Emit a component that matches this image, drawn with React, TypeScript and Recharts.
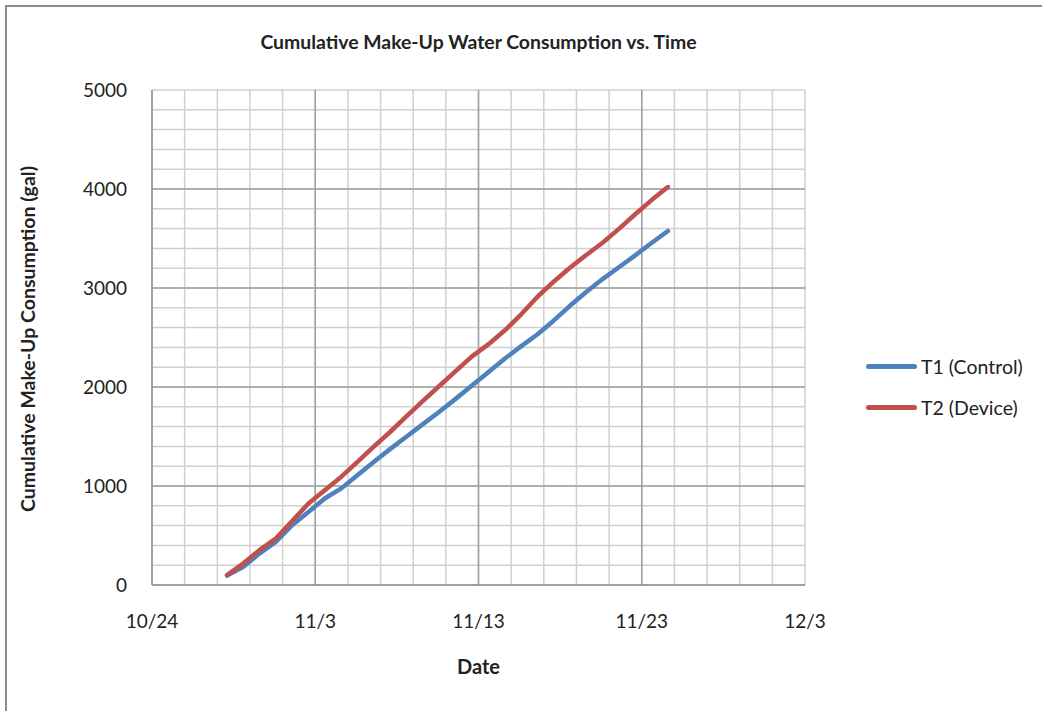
import { CartesianGrid, Legend, Line, LineChart, ReferenceLine, XAxis, YAxis } from "recharts";

// days after 10/24 (readings taken daily, mid-afternoon)
const DAYS = [
  4.6, 5.6, 6.6, 7.6, 8.6, 9.6, 10.6, 11.6, 12.6, 13.6, 14.6, 15.6, 16.6, 17.6, 18.6, 19.6, 20.6, 21.6, 22.6, 23.6,
  24.6, 25.6, 26.6, 27.6, 28.6, 29.6, 30.6, 31.6,
];
const T1_CONTROL = [
  95, 185, 320, 438, 606, 741, 876, 976, 1110, 1245, 1375, 1500, 1625, 1750, 1880, 2015, 2150, 2285, 2410, 2530,
  2670, 2820, 2960, 3090, 3210, 3330, 3455, 3576,
];
const T2_DEVICE = [
  100, 219, 354, 471, 650, 825, 960, 1094, 1246, 1400, 1548, 1705, 1859, 2010, 2160, 2310, 2430, 2570, 2732, 2909,
  3064, 3204, 3334, 3457, 3597, 3745, 3888, 4020,
];

const X_TICKS = [0, 2, 4, 6, 8, 10, 12, 14, 16, 18, 20, 22, 24, 26, 28, 30, 32, 34, 36, 38, 40];
const X_MAJOR = [10, 20, 30];
const Y_TICKS = [0, 200, 400, 600, 800, 1000, 1200, 1400, 1600, 1800, 2000, 2200, 2400, 2600, 2800, 3000, 3200, 3400, 3600, 3800, 4000, 4200, 4400, 4600, 4800, 5000];
const Y_MAJOR = [1000, 2000, 3000, 4000];

const SERIES = [
  { key: "t1", name: "T1 (Control)", color: "#4f81bd" },
  { key: "t2", name: "T2 (Device)", color: "#c0504d" },
];

const data = DAYS.map((d, i) => ({ day: d, t1: T1_CONTROL[i], t2: T2_DEVICE[i] }));

const FONT = "Lato, 'Open Sans', sans-serif";

function dayLabel(v: number) {
  if (v % 10 !== 0) return "";
  const dt = new Date(2013, 9, 24 + v);
  return `${dt.getMonth() + 1}/${dt.getDate()}`;
}

function LegendBox() {
  return (
    <div style={{ fontFamily: FONT, fontSize: 19.5, color: "#222" }}>
      {SERIES.map((s) => (
        <div key={s.key} style={{ display: "flex", alignItems: "center", height: 41 }}>
          <span style={{ width: 51, height: 5, borderRadius: 3, background: s.color, marginRight: 4 }} />
          {s.name}
        </div>
      ))}
    </div>
  );
}

export default function App() {
  return (
    <div style={{ position: "absolute", left: 0, top: 0, width: 1042, height: 711, overflow: "hidden", background: "#fff" }}>
      <div
        style={{
          position: "absolute",
          left: 0,
          top: 0,
          zIndex: 1,
          pointerEvents: "none",
        }}
      >
        <LineChart width={1042} height={711} data={data} margin={{ top: 90, right: 61, bottom: 0, left: 0 }}>
          <CartesianGrid stroke="#d0d0d0" strokeWidth={1.5} />
          {X_MAJOR.map((x) => (
            <ReferenceLine key={`x${x}`} x={x} stroke="#a0a0a0" strokeWidth={1.5} />
          ))}
          {Y_MAJOR.map((y) => (
            <ReferenceLine key={`y${y}`} y={y} stroke="#a0a0a0" strokeWidth={1.5} />
          ))}
          <XAxis
            dataKey="day"
            type="number"
            domain={[0, 40]}
            ticks={X_TICKS}
            interval={0}
            tickFormatter={dayLabel}
            tickLine={false}
            axisLine={{ stroke: "#8c8c8c", strokeWidth: 1.5 }}
            tickMargin={24}
            tick={{ fontSize: 19, fill: "#222", fontFamily: FONT }}
            height={126}
          />
          <YAxis
            type="number"
            domain={[0, 5000]}
            ticks={Y_TICKS}
            interval={0}
            tickFormatter={(v: number) => (v % 1000 === 0 ? String(v) : "")}
            tickLine={false}
            axisLine={{ stroke: "#8c8c8c", strokeWidth: 1.5 }}
            tickMargin={19}
            tick={{ fontSize: 19, fill: "#222", fontFamily: FONT }}
            width={152}
          />
          {SERIES.map((s) => (
            <Line
              key={s.key}
              dataKey={s.key}
              name={s.name}
              type="linear"
              stroke={s.color}
              strokeWidth={4.5}
              strokeLinecap="round"
              strokeLinejoin="round"
              dot={false}
              isAnimationActive={false}
            />
          ))}
          <Legend
            layout="vertical"
            align="right"
            verticalAlign="top"
            content={() => <LegendBox />}
            wrapperStyle={{ left: 866, top: 346, width: 176 }}
          />
        </LineChart>
      </div>
      <div
        style={{
          position: "absolute",
          left: 5,
          top: 5,
          width: 1100,
          height: 800,
          borderTop: "2px solid #8c8c8c",
          borderLeft: "2px solid #8c8c8c",
          zIndex: 2,
          pointerEvents: "none",
        }}
      />
      <div
        style={{
          position: "absolute",
          left: 152,
          width: 653,
          top: 30,
          textAlign: "center",
          fontFamily: FONT,
          fontWeight: 700,
          fontSize: 19.4,
          color: "#222",
        }}
      >
        Cumulative Make-Up Water Consumption vs. Time
      </div>
      <div
        style={{
          position: "absolute",
          left: 152,
          width: 653,
          top: 654,
          textAlign: "center",
          fontFamily: FONT,
          fontWeight: 700,
          fontSize: 20,
          color: "#222",
        }}
      >
        Date
      </div>
      <div
        style={{
          position: "absolute",
          left: 27,
          top: 339,
          transform: "translate(-50%, -50%) rotate(-90deg)",
          whiteSpace: "nowrap",
          fontFamily: FONT,
          fontWeight: 700,
          fontSize: 19.5,
          color: "#222",
        }}
      >
        Cumulative Make-Up Consumption (gal)
      </div>
    </div>
  );
}
